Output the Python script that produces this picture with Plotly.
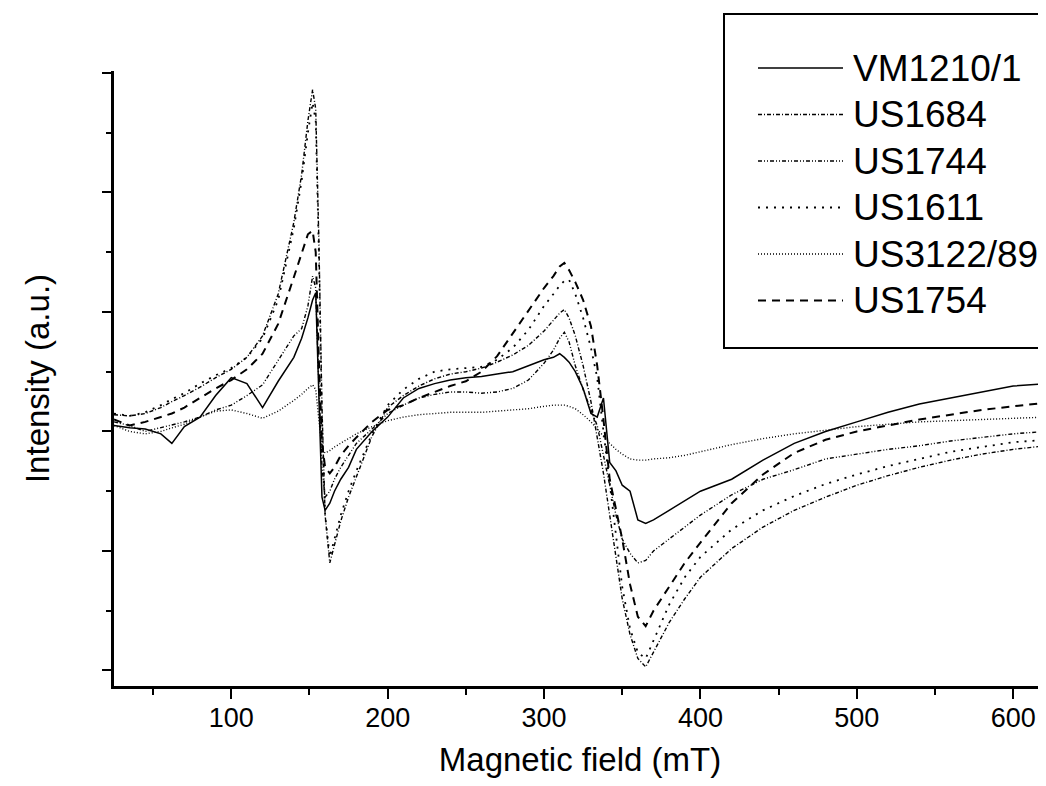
import plotly.graph_objects as go

# magnetic field values (mT) shared by all spectra
field_mT = [25, 35, 45, 55, 62, 70, 80, 90, 100, 110, 120, 130, 140, 145, 149, 152, 154, 156, 158,
            160, 163, 166, 170, 175, 180, 190, 200, 210, 220, 230, 240, 250, 260, 270, 280, 290,
            300, 306, 310, 313, 316, 320, 325, 330, 334, 338, 342, 346, 350, 355, 360, 365, 370,
            380, 390, 400, 420, 440, 460, 480, 500, 520, 540, 560, 580, 600, 621]

vm1210 = [0.05, 0.03, 0.02, -0.02, -0.10, 0.04, 0.12, 0.30, 0.45, 0.40, 0.20, 0.42, 0.62, 0.78, 0.95,
          1.10, 1.16, 0.20, -0.55, -0.66, -0.60, -0.50, -0.40, -0.30, -0.15, 0.00, 0.12, 0.28, 0.36,
          0.40, 0.43, 0.45, 0.46, 0.48, 0.50, 0.55, 0.60, 0.62, 0.65, 0.62, 0.58, 0.50, 0.36, 0.15,
          0.12, 0.28, -0.26, -0.33, -0.45, -0.50, -0.74, -0.77, -0.74, -0.66, -0.58, -0.50, -0.40,
          -0.24, -0.10, 0.00, 0.08, 0.16, 0.23, 0.28, 0.33, 0.38, 0.40]

us1684 = [0.14, 0.13, 0.15, 0.20, 0.25, 0.30, 0.37, 0.45, 0.52, 0.62, 0.80, 1.15, 1.75, 2.15, 2.60,
          2.86, 2.70, 1.60, 0.20, -0.70, -1.10, -0.95, -0.75, -0.55, -0.38, -0.04, 0.20, 0.30, 0.38,
          0.44, 0.48, 0.50, 0.53, 0.58, 0.64, 0.72, 0.84, 0.93, 0.99, 1.02, 0.95, 0.80, 0.55, 0.25,
          -0.05, -0.35, -0.70, -1.05, -1.40, -1.70, -1.90, -1.97, -1.85, -1.60, -1.40, -1.22, -0.98,
          -0.80, -0.66, -0.55, -0.45, -0.37, -0.30, -0.24, -0.19, -0.15, -0.12]

us1744 = [0.08, 0.05, 0.00, 0.03, 0.05, 0.08, 0.12, 0.18, 0.22, 0.30, 0.39, 0.60, 0.80, 0.86, 1.05,
          1.30, 1.20, 0.40, -0.30, -0.55, -0.50, -0.40, -0.30, -0.20, -0.10, 0.02, 0.15, 0.22, 0.28,
          0.31, 0.33, 0.33, 0.32, 0.33, 0.36, 0.43, 0.57, 0.68, 0.78, 0.83, 0.75, 0.55, 0.35, 0.18,
          0.05, -0.20, -0.45, -0.70, -0.90, -1.02, -1.10, -1.08, -1.00, -0.90, -0.80, -0.70, -0.53,
          -0.40, -0.32, -0.23, -0.19, -0.15, -0.12, -0.08, -0.05, -0.02, 0.00]

us1611 = [0.15, 0.13, 0.16, 0.22, 0.27, 0.32, 0.40, 0.47, 0.53, 0.62, 0.78, 1.10, 1.70, 2.10, 2.50,
          2.75, 2.60, 1.50, 0.10, -0.70, -1.05, -0.90, -0.70, -0.50, -0.33, -0.02, 0.22, 0.35, 0.44,
          0.50, 0.52, 0.53, 0.54, 0.60, 0.70, 0.85, 1.05, 1.15, 1.22, 1.26, 1.27, 1.15, 0.95, 0.70,
          0.45, 0.00, -0.45, -0.90, -1.30, -1.65, -1.85, -1.90, -1.75, -1.45, -1.22, -1.05, -0.82,
          -0.66, -0.54, -0.44, -0.36, -0.29, -0.23, -0.17, -0.13, -0.09, -0.07]

us3122 = [0.05, 0.00, -0.02, 0.00, 0.03, 0.06, 0.12, 0.17, 0.18, 0.15, 0.11, 0.17, 0.26, 0.31, 0.36,
          0.39, 0.35, 0.10, -0.15, -0.18, -0.16, -0.13, -0.10, -0.06, -0.02, 0.04, 0.09, 0.12, 0.14,
          0.15, 0.16, 0.16, 0.16, 0.17, 0.18, 0.19, 0.21, 0.22, 0.22, 0.22, 0.21, 0.19, 0.14, 0.08,
          0.02, -0.04, -0.10, -0.15, -0.19, -0.23, -0.24, -0.24, -0.23, -0.22, -0.20, -0.17, -0.11,
          -0.06, -0.02, 0.01, 0.04, 0.06, 0.08, 0.09, 0.10, 0.11, 0.12]

us1754 = [0.10, 0.05, 0.08, 0.12, 0.15, 0.20, 0.28, 0.36, 0.43, 0.52, 0.65, 0.90, 1.29, 1.50, 1.65,
          1.68, 1.50, 0.60, -0.10, -0.30, -0.35, -0.30, -0.20, -0.12, -0.05, 0.08, 0.18, 0.22, 0.28,
          0.33, 0.38, 0.42, 0.50, 0.63, 0.82, 1.00, 1.20, 1.30, 1.38, 1.41, 1.35, 1.25, 1.10, 0.88,
          0.55, 0.10, -0.40, -0.65, -0.90, -1.28, -1.55, -1.63, -1.50, -1.30, -1.10, -0.93, -0.60,
          -0.36, -0.18, -0.07, 0.00, 0.05, 0.10, 0.14, 0.18, 0.21, 0.24]

names = ["VM1210/1", "US1684", "US1744", "US1611", "US3122/89", "US1754"]
spectra = [vm1210, us1684, us1744, us1611, us3122, us1754]
dashes = ["solid", "4px,2px,1px,2px", "4px,2px,1px,2px,1px,2px", "2px,6px", "1px,2px", "8px,6px"]
widths = [1.5, 1.4, 1.4, 1.8, 1.4, 2.0]

for s in spectra:
    assert len(s) == len(field_mT)

FONT = "Liberation Sans, Arial, sans-serif"

# the page body adds an 8px margin, so the figure is 8px smaller on each side
OFF = 8
W, H = 1046 - OFF, 786 - OFF

fig = go.Figure()
for name, ys, dash, w in zip(names, spectra, dashes, widths):
    fig.add_trace(go.Scatter(x=field_mT, y=ys, mode="lines", name=name,
                             line=dict(color="black", width=w, dash=dash),
                             showlegend=False))

# plot area in window pixels: left 114, right 1046, top 71, bottom 686
L, R, T, B = 114 - OFF, 1046 - OFF, 71 - OFF, 686 - OFF

def px(x):
    return (x - OFF - L) / (R - L)

def py(y):
    return (B - (y - OFF)) / (B - T)

# legend drawn by hand so the line samples are long like the original
shapes = [dict(type="rect", xref="paper", yref="paper", x0=px(724), x1=px(1080),
               y0=py(348), y1=py(14), line=dict(color="black", width=2))]
annotations = []
for i, (name, dash, w) in enumerate(zip(names, dashes, widths)):
    yy = 68 + 46.5 * i
    shapes.append(dict(type="line", xref="paper", yref="paper", x0=px(758), x1=px(843),
                       y0=py(yy), y1=py(yy), line=dict(color="black", width=w, dash=dash)))
    annotations.append(dict(xref="paper", yref="paper", x=px(851), y=py(yy), text=name,
                            showarrow=False, xanchor="left", yanchor="middle",
                            font=dict(family=FONT, size=37, color="black")))

fig.update_layout(
    width=W, height=H,
    margin=dict(l=L, r=W - R, t=T, b=H - B),
    paper_bgcolor="white", plot_bgcolor="white",
    font=dict(family=FONT, color="black"),
    shapes=shapes, annotations=annotations,
)

fig.update_xaxes(
    range=[25, 621], showgrid=False, zeroline=False,
    showline=True, linecolor="black", linewidth=2.5,
    ticks="outside", ticklen=10, tickwidth=2, tickcolor="black",
    tick0=0, dtick=100, tickfont=dict(size=27, family=FONT), ticklabelstandoff=-4,
    minor=dict(ticks="outside", ticklen=6, tickwidth=2, tickcolor="black", dtick=50),
    title=dict(text="Magnetic field (mT)", font=dict(size=33, family=FONT), standoff=16),
)
fig.update_yaxes(
    range=[-2.13, 3.016], showgrid=False, zeroline=False,
    showline=True, linecolor="black", linewidth=2.5,
    ticks="outside", ticklen=9, tickwidth=2, tickcolor="black",
    tick0=0, dtick=1, showticklabels=False,
    minor=dict(ticks="outside", ticklen=5, tickwidth=2, tickcolor="black", dtick=0.5),
    title=dict(text="Intensity (a.u.)", font=dict(size=33, family=FONT), standoff=43),
)

fig.write_html("out.html")
